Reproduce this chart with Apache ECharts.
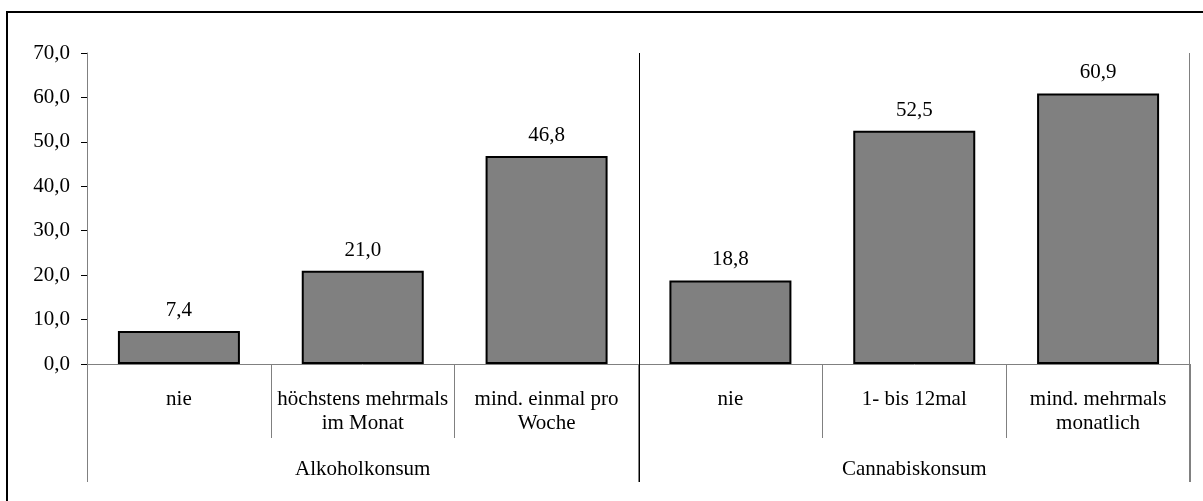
<!DOCTYPE html>
<html>
<head>
<meta charset="utf-8">
<script src="https://cdn.jsdelivr.net/npm/echarts@6/dist/echarts.min.js"></script>
<style>
  html, body { margin: 0; padding: 0; background: #fff; overflow: hidden; }
  #main { width: 1203px; height: 501px; }
</style>
</head>
<body>
<div id="main"></div>
<script>
// categories (lower level) and groups (upper level)
const categories = ['nie', 'höchstens mehrmals\nim Monat', 'mind. einmal pro\nWoche', 'nie', '1- bis 12mal', 'mind. mehrmals\nmonatlich'];
const groups = ['Alkoholkonsum', 'Cannabiskonsum'];
const values = [7.4, 21.0, 46.8, 18.8, 52.5, 60.9];
const yMin = 0, yMax = 70, yStep = 10;

const FONT = 'Liberation Serif';
const fmt = v => Number(v).toFixed(1).replace('.', ',');

const chart = echarts.init(document.getElementById('main'));

const opt = {
  animation: false,
  textStyle: { fontFamily: FONT },
  grid: { left: 87, right: 13, top: 53, bottom: 137 },
  xAxis: [{
    type: 'category',
    data: categories,
    axisLine: { show: true, lineStyle: { color: '#808080', width: 1 } },
    axisTick: { show: true, length: 74, interval: 0, alignWithLabel: false, lineStyle: { color: '#808080', width: 1 } },
    axisLabel: { interval: 0, margin: 23, color: '#000', fontFamily: FONT, fontSize: 21, lineHeight: 24 }
  }, {
    type: 'category',
    data: groups,
    position: 'bottom',
    axisLine: { show: false },
    axisTick: { show: true, length: 118, interval: 0, alignWithLabel: false, lineStyle: { color: '#808080', width: 1 } },
    axisLabel: { interval: 0, margin: 93, color: '#000', fontFamily: FONT, fontSize: 21, lineHeight: 24 }
  }],
  yAxis: {
    type: 'value',
    min: yMin, max: yMax, interval: yStep,
    axisLine: { show: true, lineStyle: { color: '#808080' } },
    axisTick: { show: true, length: 6, lineStyle: { color: '#000' } },
    axisLabel: { margin: 17, color: '#000', fontFamily: FONT, fontSize: 21, formatter: fmt },
    splitLine: { show: false }
  },
  series: [{
    type: 'bar',
    data: values,
    barWidth: 122,
    itemStyle: { color: '#808080', borderColor: '#000', borderWidth: 2 },
    label: {
      show: true, position: 'top', distance: 10,
      color: '#000', fontFamily: FONT, fontSize: 21,
      formatter: p => fmt(p.value)
    }
  }]
};
chart.setOption(opt);

// group divider and right plot edge, taken from the axis scale
const xa = chart.convertToPixel({ xAxisIndex: 0 }, 2);
const xb = chart.convertToPixel({ xAxisIndex: 0 }, 3);
const band = xb - xa;
const xMid = Math.round((xa + xb) / 2) + 0.5;
const xRight = Math.round(chart.convertToPixel({ xAxisIndex: 0 }, categories.length - 1) + band / 2) - 0.5;
const yTop = chart.convertToPixel({ yAxisIndex: 0 }, yMax);
const yZero = chart.convertToPixel({ yAxisIndex: 0 }, yMin);

chart.setOption({
  graphic: [{
    type: 'rect',
    shape: { x: 7, y: 12, width: 1400, height: 700 },
    style: { fill: null, stroke: '#000', lineWidth: 2 },
    silent: true
  }, {
    type: 'line',
    z: 100,
    shape: { x1: xMid, y1: yTop, x2: xMid, y2: yZero + 118 },
    style: { stroke: '#000', lineWidth: 1 },
    silent: true
  }, {
    type: 'line',
    z: 100,
    shape: { x1: xRight, y1: yTop, x2: xRight, y2: yZero + 118 },
    style: { stroke: '#808080', lineWidth: 1 },
    silent: true
  }]
});
</script>
</body>
</html>
